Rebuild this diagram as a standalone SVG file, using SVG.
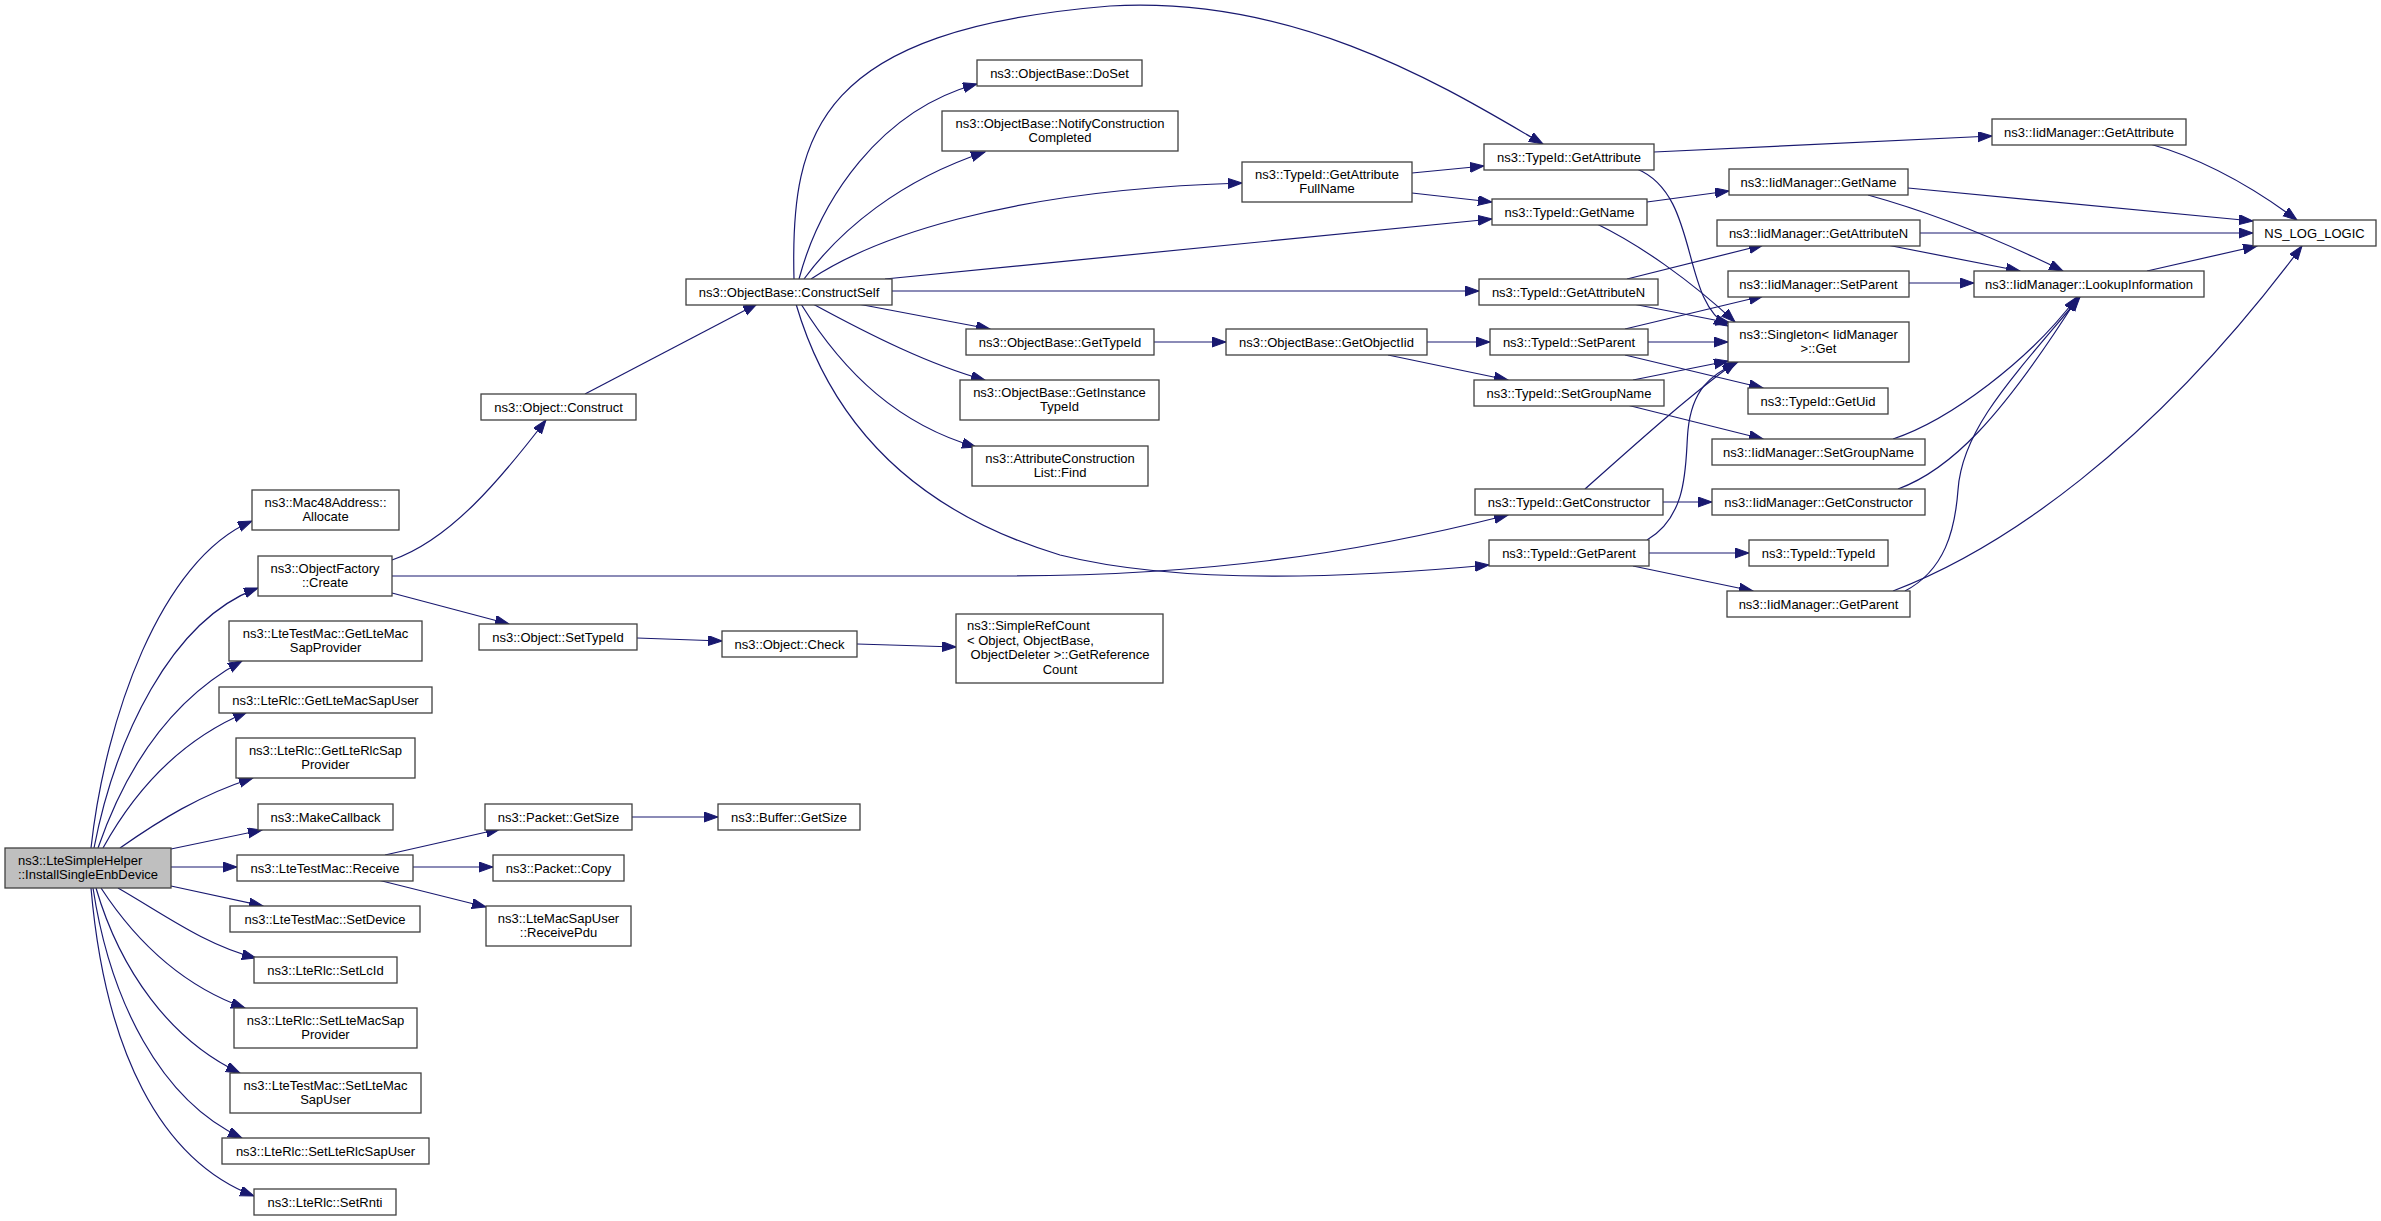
<svg xmlns="http://www.w3.org/2000/svg" width="2381" height="1221" viewBox="0 0 2381 1221">
<defs>
<marker id="a" markerUnits="userSpaceOnUse" markerWidth="15" markerHeight="11" refX="14" refY="5" orient="auto">
<path d="M0,0 L14,5 L0,10 z" fill="#191970" stroke="#191970" stroke-width="1"/>
</marker>
</defs>
<style>
.n rect{fill:#ffffff;stroke:#404040;stroke-width:1.3}
.n.root rect{fill:#bfbfbf}
text{font-family:"Liberation Sans",Arial,Helvetica,sans-serif;font-size:13px;fill:#000000;text-anchor:middle}
text.l{text-anchor:start}
#edges path{fill:none;stroke:#191970;stroke-width:1.2;marker-end:url(#a)}
</style>
<rect x="0" y="0" width="2381" height="1221" fill="#ffffff"/>
<g id="edges">
<path d="M91,848 C105,720 160,560 252,521"/>
<path d="M94,848 C115,740 170,620 258,588"/>
<path d="M98,848 C125,770 170,700 242,661"/>
<path d="M103,848 C135,790 180,740 247,712"/>
<path d="M120,848 C160,820 200,795 253,778"/>
<path d="M171,849 L262,830"/>
<path d="M171,867 L237,867"/>
<path d="M171,886 L263,906"/>
<path d="M118,888 C165,915 205,945 256,958"/>
<path d="M101,888 C135,940 180,985 245,1008"/>
<path d="M96,888 C120,970 170,1040 240,1073"/>
<path d="M93,888 C110,1000 160,1100 242,1138"/>
<path d="M91,888 C105,1050 160,1160 254,1196"/>
<path d="M392,560 C450,540 500,480 546,420"/>
<path d="M392,593 L509,624"/>
<path d="M392,576 L1000,576 C1200,576 1350,555 1508,515"/>
<path d="M385,855 L500,829"/>
<path d="M413,867 L493,867"/>
<path d="M378,880 L486,907"/>
<path d="M585,394 L757,304"/>
<path d="M637,638 L722,641"/>
<path d="M857,644 L956,647"/>
<path d="M632,817 L718,817"/>
<path d="M794,279 C790,130 820,30 1110,6 C1300,-5 1450,90 1543,144"/>
<path d="M799,279 C820,200 880,110 977,84"/>
<path d="M804,279 C840,230 900,180 985,152"/>
<path d="M811,279 C870,240 1000,190 1242,183"/>
<path d="M885,279 L1492,219"/>
<path d="M892,291 L1479,291"/>
<path d="M858,304 L990,329"/>
<path d="M813,304 C870,335 930,365 985,380"/>
<path d="M801,304 C845,375 900,425 976,447"/>
<path d="M796,304 C830,420 910,510 1060,555 C1180,585 1350,578 1489,565"/>
<path d="M1412,173 L1484,166"/>
<path d="M1412,193 L1492,202"/>
<path d="M1154,342 L1226,342"/>
<path d="M1427,342 L1490,342"/>
<path d="M1388,355 L1508,380"/>
<path d="M1654,152 L1992,136"/>
<path d="M1637,169 C1700,195 1680,300 1728,326"/>
<path d="M1647,202 L1729,191"/>
<path d="M1597,224 C1640,245 1690,280 1735,322"/>
<path d="M1627,279 L1763,245"/>
<path d="M1633,304 L1730,323"/>
<path d="M1625,329 L1763,296"/>
<path d="M1648,342 L1728,342"/>
<path d="M1625,355 L1763,388"/>
<path d="M1633,380 L1728,361"/>
<path d="M1627,405 L1763,439"/>
<path d="M1585,489 C1640,440 1690,395 1736,362"/>
<path d="M1663,502 L1712,502"/>
<path d="M1647,540 C1690,515 1685,460 1688,430 C1692,390 1710,375 1738,362"/>
<path d="M1649,553 L1749,553"/>
<path d="M1633,566 L1753,591"/>
<path d="M2150,144 C2200,158 2250,185 2297,220"/>
<path d="M1908,188 L2253,221"/>
<path d="M1868,195 C1940,215 2000,240 2063,271"/>
<path d="M1920,233 L2253,233"/>
<path d="M1887,245 L2020,271"/>
<path d="M1909,283 L1974,283"/>
<path d="M1893,439 C1950,420 2030,360 2077,297"/>
<path d="M1898,489 C1950,470 2000,420 2078,297"/>
<path d="M1905,591 C1945,570 1955,530 1958,490 C1962,430 2010,380 2080,297"/>
<path d="M1893,591 C2000,550 2150,450 2302,246"/>
<path d="M2147,271 L2257,246"/>
</g>
<g id="n0" class="n root"><rect x="5" y="848" width="166" height="40"/><text class="l" x="18" y="865">ns3::LteSimpleHelper</text><text x="88" y="879">::InstallSingleEnbDevice</text></g>
<g id="n1" class="n"><rect x="252" y="490" width="147" height="40"/><text x="325.5" y="507">ns3::Mac48Address::</text><text x="325.5" y="521">Allocate</text></g>
<g id="n2" class="n"><rect x="258" y="556" width="134" height="40"/><text x="325" y="573">ns3::ObjectFactory</text><text x="325" y="587">::Create</text></g>
<g id="n3" class="n"><rect x="229" y="621" width="193" height="40"/><text x="325.5" y="638">ns3::LteTestMac::GetLteMac</text><text x="325.5" y="652">SapProvider</text></g>
<g id="n4" class="n"><rect x="219" y="687" width="213" height="26"/><text x="325.5" y="704.5">ns3::LteRlc::GetLteMacSapUser</text></g>
<g id="n5" class="n"><rect x="236" y="738" width="179" height="40"/><text x="325.5" y="755">ns3::LteRlc::GetLteRlcSap</text><text x="325.5" y="769">Provider</text></g>
<g id="n6" class="n"><rect x="258" y="804" width="135" height="26"/><text x="325.5" y="821.5">ns3::MakeCallback</text></g>
<g id="n7" class="n"><rect x="237" y="855" width="176" height="26"/><text x="325" y="872.5">ns3::LteTestMac::Receive</text></g>
<g id="n8" class="n"><rect x="230" y="906" width="190" height="26"/><text x="325" y="923.5">ns3::LteTestMac::SetDevice</text></g>
<g id="n9" class="n"><rect x="254" y="957" width="143" height="26"/><text x="325.5" y="974.5">ns3::LteRlc::SetLcId</text></g>
<g id="n10" class="n"><rect x="234" y="1008" width="183" height="40"/><text x="325.5" y="1025">ns3::LteRlc::SetLteMacSap</text><text x="325.5" y="1039">Provider</text></g>
<g id="n11" class="n"><rect x="230" y="1073" width="191" height="40"/><text x="325.5" y="1090">ns3::LteTestMac::SetLteMac</text><text x="325.5" y="1104">SapUser</text></g>
<g id="n12" class="n"><rect x="222" y="1138" width="207" height="26"/><text x="325.5" y="1155.5">ns3::LteRlc::SetLteRlcSapUser</text></g>
<g id="n13" class="n"><rect x="254" y="1189" width="142" height="26"/><text x="325" y="1206.5">ns3::LteRlc::SetRnti</text></g>
<g id="n14" class="n"><rect x="481" y="394" width="155" height="26"/><text x="558.5" y="411.5">ns3::Object::Construct</text></g>
<g id="n15" class="n"><rect x="479" y="624" width="158" height="26"/><text x="558" y="641.5">ns3::Object::SetTypeId</text></g>
<g id="n16" class="n"><rect x="485" y="804" width="147" height="26"/><text x="558.5" y="821.5">ns3::Packet::GetSize</text></g>
<g id="n17" class="n"><rect x="493" y="855" width="131" height="26"/><text x="558.5" y="872.5">ns3::Packet::Copy</text></g>
<g id="n18" class="n"><rect x="486" y="906" width="145" height="40"/><text x="558.5" y="923">ns3::LteMacSapUser</text><text x="558.5" y="937">::ReceivePdu</text></g>
<g id="n19" class="n"><rect x="686" y="279" width="206" height="26"/><text x="789" y="296.5">ns3::ObjectBase::ConstructSelf</text></g>
<g id="n20" class="n"><rect x="722" y="631" width="135" height="26"/><text x="789.5" y="648.5">ns3::Object::Check</text></g>
<g id="n21" class="n"><rect x="718" y="804" width="142" height="26"/><text x="789" y="821.5">ns3::Buffer::GetSize</text></g>
<g id="n22" class="n"><rect x="977" y="60" width="165" height="26"/><text x="1059.5" y="77.5">ns3::ObjectBase::DoSet</text></g>
<g id="n23" class="n"><rect x="942" y="111" width="236" height="40"/><text x="1060" y="128">ns3::ObjectBase::NotifyConstruction</text><text x="1060" y="142">Completed</text></g>
<g id="n24" class="n"><rect x="966" y="329" width="188" height="26"/><text x="1060" y="346.5">ns3::ObjectBase::GetTypeId</text></g>
<g id="n25" class="n"><rect x="960" y="380" width="199" height="40"/><text x="1059.5" y="397">ns3::ObjectBase::GetInstance</text><text x="1059.5" y="411">TypeId</text></g>
<g id="n26" class="n"><rect x="972" y="446" width="176" height="40"/><text x="1060" y="463">ns3::AttributeConstruction</text><text x="1060" y="477">List::Find</text></g>
<g id="n27" class="n"><rect x="956" y="614" width="207" height="69"/><text class="l" x="967" y="630">ns3::SimpleRefCount</text><text class="l" x="967" y="644.5">&lt; Object, ObjectBase,</text><text x="1060" y="659">ObjectDeleter &gt;::GetReference</text><text x="1060" y="673.5">Count</text></g>
<g id="n28" class="n"><rect x="1242" y="162" width="170" height="40"/><text x="1327" y="179">ns3::TypeId::GetAttribute</text><text x="1327" y="193">FullName</text></g>
<g id="n29" class="n"><rect x="1226" y="329" width="201" height="26"/><text x="1326.5" y="346.5">ns3::ObjectBase::GetObjectIid</text></g>
<g id="n30" class="n"><rect x="1484" y="144" width="170" height="26"/><text x="1569" y="161.5">ns3::TypeId::GetAttribute</text></g>
<g id="n31" class="n"><rect x="1492" y="199" width="155" height="26"/><text x="1569.5" y="216.5">ns3::TypeId::GetName</text></g>
<g id="n32" class="n"><rect x="1479" y="279" width="179" height="26"/><text x="1568.5" y="296.5">ns3::TypeId::GetAttributeN</text></g>
<g id="n33" class="n"><rect x="1490" y="329" width="158" height="26"/><text x="1569" y="346.5">ns3::TypeId::SetParent</text></g>
<g id="n34" class="n"><rect x="1474" y="380" width="190" height="26"/><text x="1569" y="397.5">ns3::TypeId::SetGroupName</text></g>
<g id="n35" class="n"><rect x="1475" y="489" width="188" height="26"/><text x="1569" y="506.5">ns3::TypeId::GetConstructor</text></g>
<g id="n36" class="n"><rect x="1489" y="540" width="160" height="26"/><text x="1569" y="557.5">ns3::TypeId::GetParent</text></g>
<g id="n37" class="n"><rect x="1729" y="169" width="179" height="26"/><text x="1818.5" y="186.5">ns3::IidManager::GetName</text></g>
<g id="n38" class="n"><rect x="1717" y="220" width="203" height="26"/><text x="1818.5" y="237.5">ns3::IidManager::GetAttributeN</text></g>
<g id="n39" class="n"><rect x="1728" y="271" width="181" height="26"/><text x="1818.5" y="288.5">ns3::IidManager::SetParent</text></g>
<g id="n40" class="n"><rect x="1728" y="322" width="181" height="40"/><text x="1818.5" y="339">ns3::Singleton&lt; IidManager</text><text x="1818.5" y="353">&gt;::Get</text></g>
<g id="n41" class="n"><rect x="1748" y="388" width="140" height="26"/><text x="1818" y="405.5">ns3::TypeId::GetUid</text></g>
<g id="n42" class="n"><rect x="1712" y="439" width="213" height="26"/><text x="1818.5" y="456.5">ns3::IidManager::SetGroupName</text></g>
<g id="n43" class="n"><rect x="1712" y="489" width="213" height="26"/><text x="1818.5" y="506.5">ns3::IidManager::GetConstructor</text></g>
<g id="n44" class="n"><rect x="1749" y="540" width="139" height="26"/><text x="1818.5" y="557.5">ns3::TypeId::TypeId</text></g>
<g id="n45" class="n"><rect x="1727" y="591" width="183" height="26"/><text x="1818.5" y="608.5">ns3::IidManager::GetParent</text></g>
<g id="n46" class="n"><rect x="1992" y="119" width="194" height="26"/><text x="2089" y="136.5">ns3::IidManager::GetAttribute</text></g>
<g id="n47" class="n"><rect x="1974" y="271" width="230" height="26"/><text x="2089" y="288.5">ns3::IidManager::LookupInformation</text></g>
<g id="n48" class="n"><rect x="2253" y="220" width="123" height="26"/><text x="2314.5" y="237.5">NS_LOG_LOGIC</text></g>
</svg>
